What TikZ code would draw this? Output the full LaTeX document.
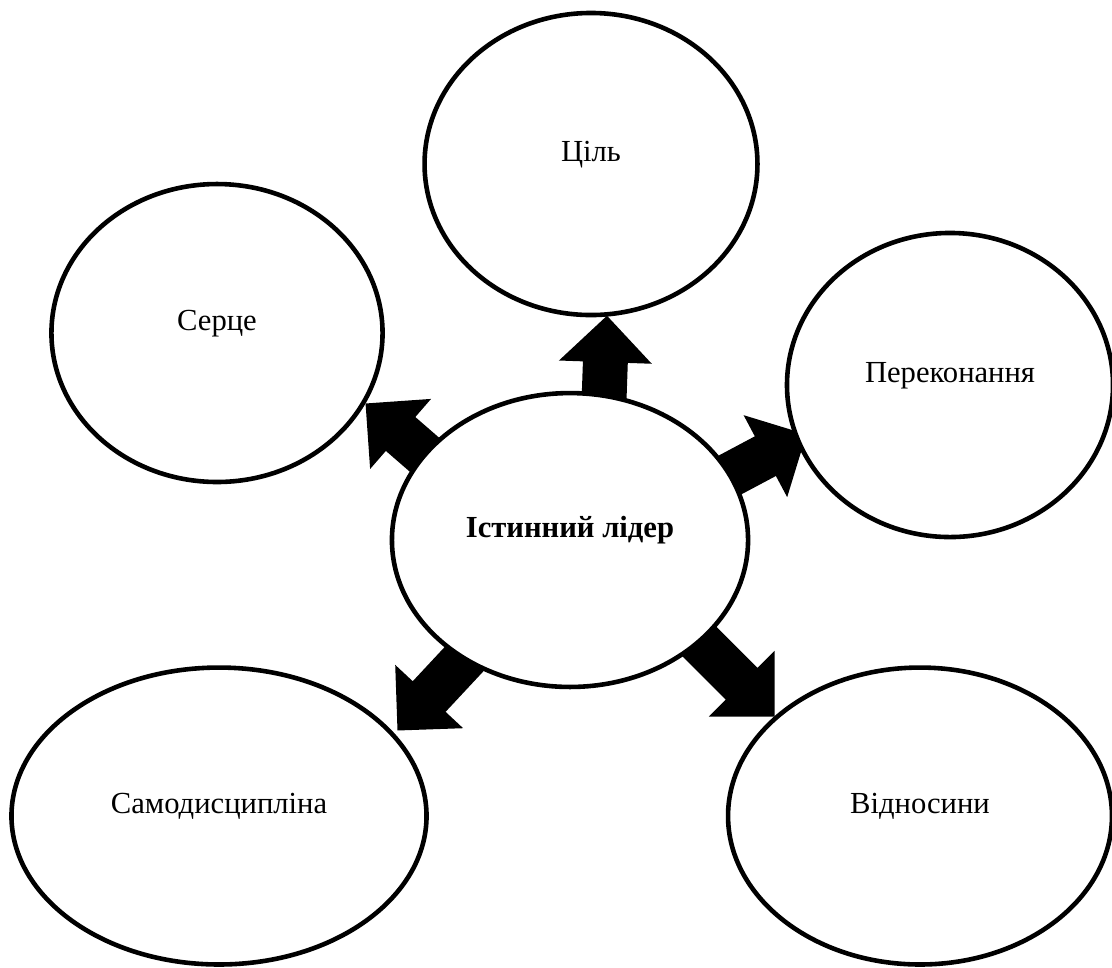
\documentclass[tikz,border=0pt]{standalone}
\usepackage{fontspec}
\setmainfont{Liberation Serif}
\usetikzlibrary{positioning,shapes.geometric,shapes.arrows,backgrounds}

\begin{document}
\begin{tikzpicture}[x=0.392pt,y=-0.392pt,
    every node/.style={font=\fontsize{12}{14}\selectfont},
    bubble/.style={ellipse,draw,line width=1.8pt,fill=white,inner sep=0pt,text depth=10pt},
    blk/.style={single arrow,fill=black,inner xsep=0pt,inner ysep=8.6pt,
                single arrow head extend=9.4pt,single arrow tip angle=90,anchor=tip}]
        \useasboundingbox (0,0) rectangle (1112,967);
        % the six ellipses
        \node[bubble,minimum width=139.6pt,minimum height=115.2pt] (lead) at (570,540) {\textbf{Істинний лідер}};
        \node[bubble,minimum width=130.5pt,minimum height=118.4pt] (goal) at (591,164) {Ціль};
        \node[bubble,minimum width=129.8pt,minimum height=116.8pt] (heart) at (217,333) {Серце};
        \node[bubble,minimum width=127.8pt,minimum height=119.2pt] (belief) at (950,385) {Переконання};
        \node[bubble,minimum width=162.7pt,minimum height=116.4pt] (disc) at (219,816) {Самодисципліна};
        \node[bubble,minimum width=150.5pt,minimum height=116.4pt] (rel) at (920,816) {Відносини};
        % block arrows, behind the ellipses
        \begin{scope}[on background layer]
        \node[blk,rotate=88,minimum height=39.2pt] (to-goal) at (607,315) {};
        \node[blk,rotate=139,minimum height=45.1pt] (to-heart) at (365,403) {};
        \node[blk,rotate=28,minimum height=39.2pt] (to-belief) at (807,434) {};
        \node[blk,rotate=227,minimum height=43.1pt] (to-disc) at (397,731) {};
        \node[blk,rotate=-45,minimum height=45.1pt] (to-rel) at (775,717) {};
        \end{scope}
      \end{tikzpicture}
\end{document}
